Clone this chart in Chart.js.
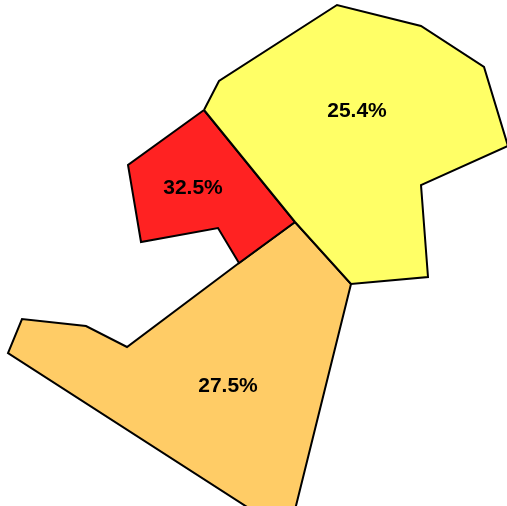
<!DOCTYPE html>
<html>
<head>
<meta charset="utf-8">
<style>
html,body{margin:0;padding:0;background:#fff;overflow:hidden}
#wrap{width:507px;height:506px;position:relative}
</style>
<script src="https://cdn.jsdelivr.net/npm/chart.js@4"></script>
</head>
<body>
<div id="wrap"><canvas id="c" width="507" height="506"></canvas></div>
<script>
const regions = ["A", "B", "C"];
const shares = ["25.4%", "32.5%", "27.5%"];
const colors = ["#FFFF66", "#FF2222", "#FFCC66"];
const yellowX = [204, 219, 337, 421, 484, 508, 421, 428, 351, 295, 204];
const yellowY = [110, 81, 5, 26, 67, 146, 185, 277, 284, 222, 110];
const redX = [204, 128, 141, 218, 239, 295, 204];
const redY = [110, 165, 242, 228, 263, 222, 110];
const orangeX = [295, 351, 289, 8, 22, 86, 127, 239, 295];
const orangeY = [222, 284, 534, 353, 319, 326, 347, 263, 222];
const labelX = [357, 193, 228];
const labelY = [111, 188, 386];

const toPts = (xs, ys) => xs.map((x, i) => ({x, y: ys[i]}));
const outlines = [toPts(yellowX, yellowY), toPts(redX, redY), toPts(orangeX, orangeY)];

const labelPlugin = {
  id: "regionLabels",
  afterDatasetsDraw(chart) {
    const {ctx, scales} = chart;
    ctx.save();
    ctx.font = "bold 21px 'Liberation Sans', Arial, sans-serif";
    ctx.fillStyle = "#000";
    ctx.textAlign = "center";
    ctx.textBaseline = "middle";
    shares.forEach((s, i) => {
      ctx.fillText(s, scales.x.getPixelForValue(labelX[i]), scales.y.getPixelForValue(labelY[i]));
    });
    ctx.restore();
  }
};

new Chart(document.getElementById("c"), {
  type: "scatter",
  data: {
    datasets: regions.map((r, i) => ({
      label: r,
      data: outlines[i],
      showLine: true,
      fill: "shape",
      backgroundColor: colors[i],
      borderColor: "#000",
      borderWidth: 2,
      borderJoinStyle: "miter",
      pointRadius: 0,
      tension: 0
    }))
  },
  options: {
    responsive: false,
    animation: false,
    layout: {padding: 0},
    plugins: {legend: {display: false}, tooltip: {enabled: false}},
    scales: {
      x: {type: "linear", min: 0, max: 507, display: false},
      y: {type: "linear", min: 0, max: 506, reverse: true, display: false}
    }
  },
  plugins: [labelPlugin]
});
</script>
</body>
</html>
